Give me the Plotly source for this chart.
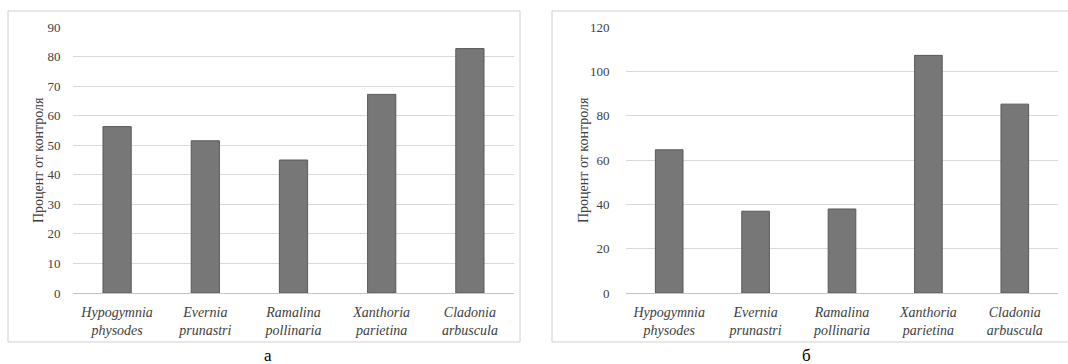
import plotly.graph_objects as go

categories = ["Hypogymnia<br>physodes", "Evernia<br>prunastri", "Ramalina<br>pollinaria",
              "Xanthoria<br>parietina", "Cladonia<br>arbuscula"]
values_a = [56.3, 51.5, 45.0, 67.2, 82.7]
values_b = [64.6, 36.9, 37.9, 107.2, 85.2]
yticks_a = [0, 10, 20, 30, 40, 50, 60, 70, 80, 90]
yticks_b = [0, 20, 40, 60, 80, 100, 120]
ytitle = "Процент от контроля"
panel_labels = ["а", "б"]

W, H = 1068, 364
FONT = "Times New Roman, Liberation Serif, Tinos, DejaVu Serif, serif"
labels = [f"<i>{c}</i>" for c in categories]

fig = go.Figure()
bar_style = dict(marker=dict(color="#777777", line=dict(color="#595959", width=1)), showlegend=False)
fig.add_trace(go.Bar(x=labels, y=values_a, xaxis="x", yaxis="y", **bar_style))
fig.add_trace(go.Bar(x=labels, y=values_b, xaxis="x2", yaxis="y2", **bar_style))

ydom = [1 - 293 / H, 1 - 27 / H]
common_x = dict(showgrid=False, zeroline=False, showline=False, ticks="outside", ticklen=6,
                tickcolor="rgba(0,0,0,0)", tickfont=dict(family=FONT, size=14, color="#404040"),
                fixedrange=True, automargin=False)
common_y = dict(showgrid=True, gridcolor="#d9d9d9", gridwidth=1, zeroline=True, zerolinecolor="#c4c4c4",
                zerolinewidth=1, showline=False, ticks="outside", tickcolor="rgba(0,0,0,0)",
                tickfont=dict(family=FONT, size=13, color="#404040"), fixedrange=True, automargin=False)

fig.update_layout(
    width=W, height=H, margin=dict(l=0, r=0, t=0, b=0),
    paper_bgcolor="white", plot_bgcolor="white", bargap=0.68,
    font=dict(family=FONT),
    xaxis=dict(domain=[73 / W, 514 / W], anchor="y", **common_x),
    yaxis=dict(domain=ydom, anchor="x", range=[0, 90], tickvals=yticks_a, ticklen=9, **common_y),
    xaxis2=dict(domain=[626 / W, 1058 / W], anchor="y2", **common_x),
    yaxis2=dict(domain=ydom, anchor="x2", range=[0, 120], tickvals=yticks_b, ticklen=13, **common_y),
)

# frames
fig.add_shape(type="rect", xref="paper", yref="paper", x0=8 / W, x1=520 / W, y0=1 - 342 / H, y1=1 - 11 / H,
              line=dict(color="#d0d0d0", width=1))
fig.add_shape(type="rect", xref="paper", yref="paper", x0=552 / W, x1=1075 / W, y0=1 - 342 / H, y1=1 - 11 / H,
              line=dict(color="#d0d0d0", width=1))

# y titles
for xpx in (38, 583):
    fig.add_annotation(x=xpx / W, y=1 - 160 / H, xref="paper", yref="paper", text=ytitle, textangle=-90,
                       xanchor="center", yanchor="middle",
                       showarrow=False, font=dict(family=FONT, size=14, color="#404040"))

# panel labels
for xpx, lab in zip((268, 806), panel_labels):
    fig.add_annotation(x=xpx / W, y=1 - 355 / H, xref="paper", yref="paper", text=lab,
                       xanchor="center", yanchor="middle",
                       showarrow=False, font=dict(family=FONT, size=17, color="black"))

fig.write_html("out.html", config={"displayModeBar": False},
               post_script="document.body.style.margin='0';document.body.style.overflow='hidden';")
